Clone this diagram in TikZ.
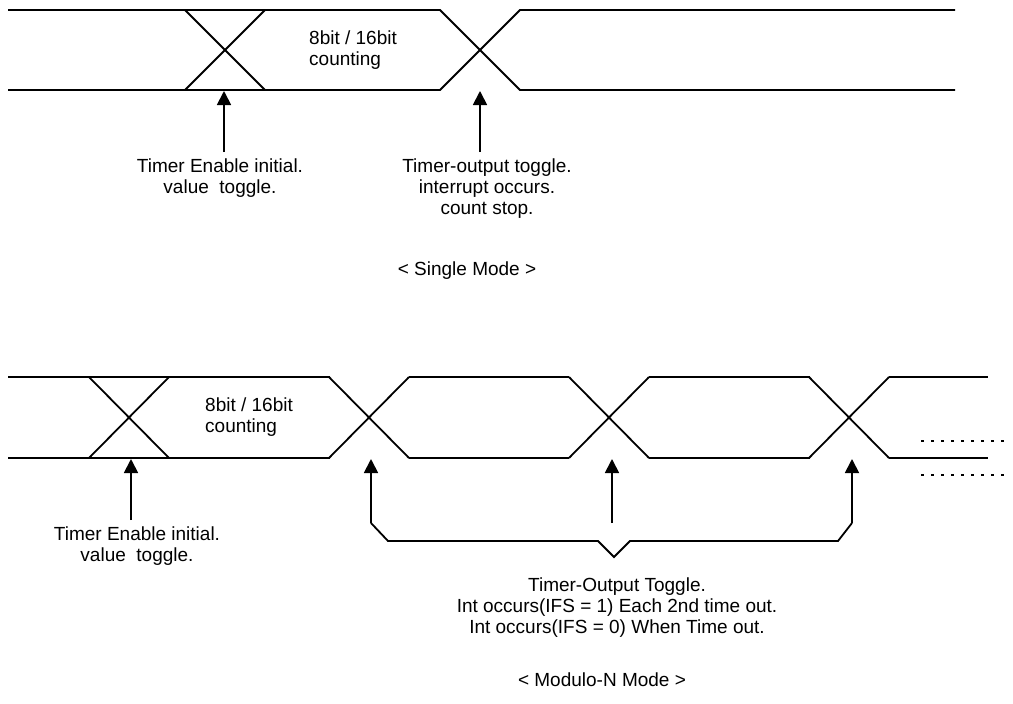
\documentclass[tikz,border=0pt]{standalone}
\usepackage{fontspec}
\setmainfont{Liberation Sans}
\usepackage{tikz}
\usetikzlibrary{arrows.meta, positioning, calc}
\tikzset{
  wave/.style={line width=1.8pt, line join=miter},
  tiparrow/.style={-{Triangle[width=14pt,length=14pt]}, line width=1.8pt},
  brace/.style={line width=1.8pt},
  dotrow/.style={line width=2.6pt, dash pattern=on 3pt off 7pt},
  lbl/.style={font=\fontsize{19}{21}\selectfont, align=center, inner sep=0pt},
  datalbl/.style={lbl, align=left, anchor=west},
}

\begin{document}
\begin{tikzpicture}[x=1pt, y=-1pt]
  \useasboundingbox (0,0) rectangle (1013,704);
  % single mode
  \draw[wave] (8,10) -- (440,10) -- (520,90) -- (955,90);
  \draw[wave] (8,90) -- (440,90) -- (520,10) -- (955,10);
  \draw[wave] (185,10) -- (265,90);
  \draw[wave] (185,90) -- (265,10);
  \node[datalbl] (cnt1) at (309,50) {8bit / 16bit\\counting};
  \coordinate (en1) at (224,91);
  \coordinate (en1b) at (224,152);
  \coordinate (to1) at (480,91);
  \coordinate (to1b) at (480,152);
  \draw[tiparrow] (en1b) -- (en1);
  \draw[tiparrow] (to1b) -- (to1);
  \node[lbl, anchor=north] (en1t) at (220,159) {Timer Enable initial.\\value\ \ toggle.};
  \node[lbl, anchor=north] (to1t) at (487,159) {Timer-output toggle.\\interrupt occurs.\\count stop.};
  \node[lbl] (single) at (467,271) {< Single Mode >};
  % modulo-n mode
  \draw[wave] (8,377) -- (330,377);
  \draw[wave] (8,458) -- (330,458);
  \foreach \c in {129,369,609,849} {
    \draw[wave] (\c-40,377) -- (\c+40,458);
    \draw[wave] (\c-40,458) -- (\c+40,377);
  }
  \foreach \a/\b in {409/569,649/810,889/988} {
    \draw[wave] (\a,377) -- (\b,377);
    \draw[wave] (\a,458) -- (\b,458);
  }
  \draw[dotrow] (921,441) -- (1009,441);
  \draw[dotrow] (921,475) -- (1009,475);
  \node[datalbl] (cnt2) at (205,417) {8bit / 16bit\\counting};
  \coordinate (en2) at (131,459);
  \coordinate (en2b) at (131,520);
  \draw[tiparrow] (en2b) -- (en2);
  \node[lbl, anchor=north] (en2t) at (137,527) {Timer Enable initial.\\value\ \ toggle.};
  \coordinate (ta) at (371,459);
  \coordinate (tb) at (612,459);
  \coordinate (tc) at (852,459);
  \coordinate (ba) at (371,523);
  \coordinate (bb) at (612,523);
  \coordinate (bc) at (852,523);
  \draw[tiparrow] (ba) -- (ta);
  \draw[tiparrow] (bb) -- (tb);
  \draw[tiparrow] (bc) -- (tc);
  \coordinate (tip) at (614,557);
  \draw[brace] (ba) -- (388,541) -- (598,541) -- (tip) -- (630,541) -- (838,541) -- (bc);
  \node[lbl, anchor=north] (tot) at (617,578) {Timer-Output Toggle.\\Int occurs(IFS = 1) Each 2nd time out.\\Int occurs(IFS = 0) When Time out.};
  \node[lbl] (modn) at (602,680) {< Modulo-N Mode >};
\end{tikzpicture}
\end{document}
